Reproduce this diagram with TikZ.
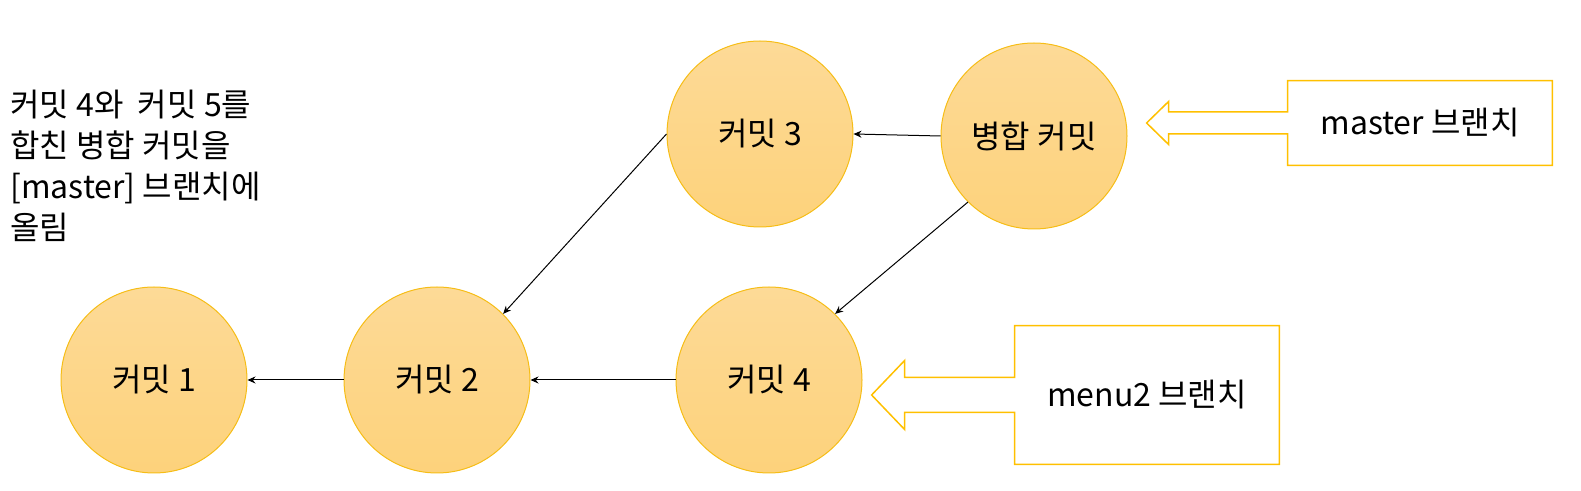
\documentclass[tikz,border=0pt]{standalone}
\usepackage{fontspec}
\setmainfont{Noto Sans CJK KR}
\usetikzlibrary{arrows.meta,positioning,calc}

\definecolor{commitline}{HTML}{F6BD16}
\definecolor{committop}{HTML}{FDDA97}
\definecolor{commitbottom}{HTML}{FDD27B}
\definecolor{branchline}{HTML}{FFC000}

\tikzset{
  commit/.style={circle, draw=commitline, line width=0.5pt, top color=committop, bottom color=commitbottom,
    minimum size=93pt, inner sep=0pt, font=\fontsize{16}{19}\selectfont},
  branch/.style={rectangle, minimum width=132pt, inner sep=0pt, font=\fontsize{16}{19}\selectfont},
  parent/.style={-{Stealth[length=4pt,width=3.5pt]}, line width=0.5pt},
  tag/.style={draw=branchline, line width=0.75pt, line join=miter}
}

\begin{document}
\begin{tikzpicture}[x=0.5pt,y=-0.5pt,on grid]
  \useasboundingbox (0,0) rectangle (1581,491);

  \node[commit] (c1) at (154,380) {커밋 1};
  \node[commit] (c2) [right=141.5pt of c1] {커밋 2};
  \node[commit] (c4) [right=166pt of c2] {커밋 4};
  \node[commit] (c3) [above left=123pt and 4.5pt of c4] {커밋 3};
  \node[commit] (merge) [right=137pt of c3, yshift=-1pt] {병합 커밋};

  \node[branch, minimum height=42pt] (master) [right=193pt of merge, yshift=6.5pt] {master 브랜치};
  \node[branch, minimum height=69pt] (menu) [right=189pt of c4, yshift=-7.5pt] {menu2 브랜치};

  \node[anchor=north west, align=left, inner sep=0pt, font=\fontsize{16}{20.5}\selectfont] (note) at (10,90)
    {커밋 4와\ \ 커밋 5를\\합친 병합 커밋을\\{[}master{]} 브랜치에\\올림};

  % parent links
  \draw[parent] (merge.west) -- (c3.east);
  \draw[parent] (merge.225) -- (c4.45);
  \draw[parent] (c3.west) -- (c2.45);
  \draw[parent] (c4.west) -- (c2.east);
  \draw[parent] (c2.west) -- (c1.east);

  % branch pointers
  \draw[tag] ([yshift=5.5pt]master.west) -- (master.north west) -- (master.north east) -- (master.south east)
    -- (master.south west) -- ([yshift=-5.5pt]master.west) -- ++(-59.5pt,0) -- ++(0,-5.25pt)
    -- ++(-11pt,10.75pt) -- ++(11pt,10.75pt) -- ++(0,-5.25pt) -- cycle;
  \draw[tag] ([yshift=8.75pt]menu.west) -- (menu.north west) -- (menu.north east) -- (menu.south east)
    -- (menu.south west) -- ([yshift=-8.75pt]menu.west) -- ++(-55pt,0) -- ++(0,-8.5pt)
    -- ++(-16.5pt,17.25pt) -- ++(16.5pt,17.25pt) -- ++(0,-8.5pt) -- cycle;
\end{tikzpicture}
\end{document}
